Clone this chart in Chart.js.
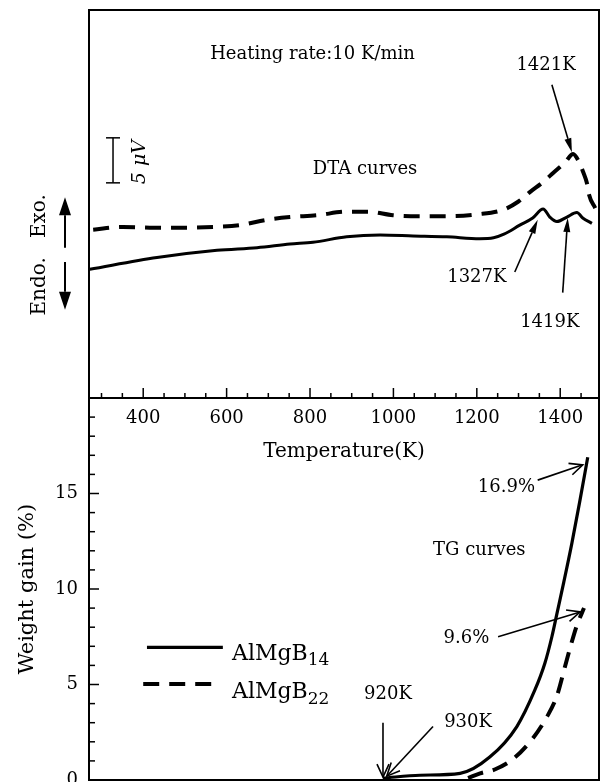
<!DOCTYPE html>
<html><head><meta charset="utf-8">
<script src="https://cdn.jsdelivr.net/npm/chart.js@4.4.1/dist/chart.umd.min.js"></script>
<style>html,body{margin:0;padding:0;background:#fff;}#wrap{width:603px;height:782px;}</style>
</head><body><div id="wrap"><canvas id="c" width="603" height="782"></canvas></div>
<script>
// ---- data ----
const xTickLabels = [400, 600, 800, 1000, 1200, 1400];
const tgTickLabels = [0, 5, 10, 15];
const seriesNames = ['AlMgB14', 'AlMgB22'];

// DTA curves (Temperature K, signal in µV, arbitrary zero)
const dtaSolidT = [272, 433, 577, 673, 752, 807, 888, 968, 1047, 1128, 1207, 1240, 1265, 1303, 1334, 1359, 1375, 1392, 1416, 1440, 1454, 1476];
const dtaSolidV = [14.3, 15.6, 16.4, 16.7, 17.1, 17.3, 17.9, 18.1, 18.0, 17.9, 17.7, 17.8, 18.2, 19.2, 20.0, 21.0, 20.1, 19.6, 20.1, 20.6, 20.0, 19.4];
const dtaDashT = [280, 351, 445, 568, 632, 697, 752, 817, 889, 939, 999, 1064, 1136, 1201, 1263, 1299, 1328, 1359, 1383, 1412, 1431, 1443, 1455, 1465, 1469, 1484];
const dtaDashV = [18.7, 19.0, 18.9, 19.0, 19.2, 19.8, 20.1, 20.3, 20.7, 20.7, 20.3, 20.2, 20.2, 20.4, 20.9, 21.8, 22.9, 24.0, 25.0, 26.2, 27.1, 26.4, 25.1, 23.7, 22.6, 21.1];

// TG curves (Temperature K, weight gain %)
const tgSolidT = [975, 1064, 1160, 1231, 1296, 1339, 1363, 1380, 1392, 1407, 1428, 1447, 1466];
const tgSolidW = [0.1, 0.25, 0.35, 1.2, 2.8, 4.7, 6.1, 7.5, 8.7, 10.2, 12.4, 14.6, 16.9];
const tgDashT = [1179, 1208, 1243, 1287, 1335, 1368, 1392, 1411, 1426, 1440, 1457];
const tgDashW = [0.1, 0.35, 0.55, 1.1, 2.2, 3.3, 4.4, 5.9, 7.1, 8.1, 9.0];

const toXY = (ts, vs) => ts.map((t, i) => ({x: t, y: vs[i]}));

Chart.defaults.font.family = '"DejaVu Serif", serif';
Chart.defaults.color = '#000';

const solidStyle = {borderColor: '#000', borderWidth: 3.2, borderDash: []};
const dashStyle = {borderColor: '#000', borderWidth: 4, borderDash: [16, 10]};

function line(ctx, x1, y1, x2, y2) { ctx.beginPath(); ctx.moveTo(x1, y1); ctx.lineTo(x2, y2); ctx.stroke(); }
function arrow(ctx, x1, y1, x2, y2, head, half, filled) {
  const ang = Math.atan2(y2 - y1, x2 - x1);
  const bx = x2 - head * Math.cos(ang), by = y2 - head * Math.sin(ang);
  const px = -Math.sin(ang) * half, py = Math.cos(ang) * half;
  line(ctx, x1, y1, filled ? bx : x2, filled ? by : y2);
  ctx.beginPath();
  ctx.moveTo(bx + px, by + py); ctx.lineTo(x2, y2); ctx.lineTo(bx - px, by - py);
  if (filled) { ctx.closePath(); ctx.fill(); } else { ctx.stroke(); }
}
function subText(ctx, name, x, y, size) {
  const m = name.match(/^(.*?)(\d+)$/);
  ctx.textAlign = 'left'; ctx.textBaseline = 'middle';
  ctx.font = size + 'px "DejaVu Serif"';
  ctx.fillText(m[1], x, y);
  const w = ctx.measureText(m[1]).width;
  ctx.font = Math.round(size * 0.78) + 'px "DejaVu Serif"';
  ctx.fillText(m[2], x + w, y + size * 0.32);
}

const topTexts = [['Heating rate:10 K/min', 806, 38.2], ['1421K', 1366, 37.0], ['DTA curves', 932, 25.4], ['1327K', 1200, 13.4], ['1419K', 1375, 8.4]];
const bottomTexts = [['16.9%', 1271, 15.3], ['TG curves', 1206, 12.0], ['9.6%', 1175, 7.4], ['920K', 987, 4.5], ['930K', 1179, 3.0]];
const topArrows = [[1380, 34.8, 1428, 27.3], [1291, 14.0, 1346, 19.8], [1406, 11.7, 1418, 20.0]];
const bottomArrows = [[1346, 15.7, 1454, 16.5], [1251, 7.5, 1448, 8.8], [975, 3.0, 975, 0.15], [1095, 2.8, 984, 0.2]];

const noPad = s => { s.paddingTop = 0; s.paddingBottom = 0; s.paddingLeft = 0; s.paddingRight = 0; };

const deco = {
  id: 'deco',
  afterDraw(chart) {
    const {ctx, chartArea: a, scales} = chart;
    const X = v => scales.x.getPixelForValue(v);
    const YD = v => scales.yd.getPixelForValue(v);
    const YT = v => scales.y.getPixelForValue(v);
    ctx.save();
    ctx.strokeStyle = '#000'; ctx.fillStyle = '#000';
    ctx.lineWidth = 2;
    ctx.strokeRect(a.left, a.top, a.right - a.left, a.bottom - a.top);
    const yMid = YT(20);
    line(ctx, a.left, yMid, a.right, yMid);
    // inward tick marks
    ctx.lineWidth = 1.5;
    for (let v = 300; v <= 1450; v += 50) {
      const len = v % 200 === 0 ? 10 : 5;
      line(ctx, X(v), yMid, X(v), yMid - len);
    }
    for (let v = 1; v < 20; v++) {
      const len = v % 5 === 0 ? 10 : 6;
      line(ctx, a.left, YT(v), a.left + len, YT(v));
    }
    // annotations
    ctx.font = '18px "DejaVu Serif"';
    ctx.textAlign = 'center'; ctx.textBaseline = 'middle';
    topTexts.forEach(([t, k, v]) => ctx.fillText(t, X(k), YD(v)));
    bottomTexts.forEach(([t, k, v]) => ctx.fillText(t, X(k), YT(v)));
    ctx.lineWidth = 1.6;
    topArrows.forEach(([k1, v1, k2, v2]) => arrow(ctx, X(k1), YD(v1), X(k2), YD(v2), 14, 3.5, true));
    bottomArrows.forEach(([k1, v1, k2, v2]) => arrow(ctx, X(k1), YT(v1), X(k2), YT(v2), 13, 6, false));
    // 5 µV scale bar
    ctx.lineWidth = 1.5;
    const sx = X(327.6), s1 = YD(28.9), s2 = YD(23.9);
    line(ctx, sx, s1, sx, s2); line(ctx, sx - 7, s1, sx + 7, s1); line(ctx, sx - 7, s2, sx + 7, s2);
    ctx.save();
    ctx.translate(X(392), YD(26.2)); ctx.rotate(-Math.PI / 2);
    ctx.font = 'italic 19px "DejaVu Serif"';
    ctx.fillText('5 μV', 0, 0);
    ctx.restore();
    // Endo / Exo label with arrows
    const L = scales.yd.left;
    ctx.save();
    ctx.translate(L + 40, YD(15.9)); ctx.rotate(-Math.PI / 2);
    ctx.font = '20px "DejaVu Serif"';
    ctx.fillText('Endo.   Exo.', 0, 0);
    ctx.restore();
    ctx.lineWidth = 2;
    arrow(ctx, L + 65, YD(16.7), L + 65, YD(22.3), 18, 6, true);
    arrow(ctx, L + 65, YD(15.1), L + 65, YD(9.8), 18, 6, true);
    // legend
    const legendRows = [[409, 591, 6.94, 6.6, solidStyle], [400, 577, 5.02, 4.6, dashStyle]];
    legendRows.forEach(([k1, k2, v, vt, st], i) => {
      ctx.save();
      ctx.lineWidth = st.borderWidth; ctx.setLineDash(st.borderDash);
      line(ctx, X(k1), YT(v), X(k2), YT(v));
      ctx.restore();
      subText(ctx, seriesNames[i], X(613), YT(vt), 22);
    });
    ctx.restore();
  }
};

const axisFont = {size: 18, family: '"DejaVu Serif", serif'};

new Chart(document.getElementById('c'), {
  type: 'line',
  data: {
    datasets: [
      Object.assign({label: seriesNames[0] + ' DTA', data: toXY(dtaSolidT, dtaSolidV), yAxisID: 'yd'}, solidStyle, {borderWidth: 3}),
      Object.assign({label: seriesNames[1] + ' DTA', data: toXY(dtaDashT, dtaDashV), yAxisID: 'yd'}, dashStyle),
      Object.assign({label: seriesNames[0] + ' TG', data: toXY(tgSolidT, tgSolidW), yAxisID: 'y'}, solidStyle),
      Object.assign({label: seriesNames[1] + ' TG', data: toXY(tgDashT, tgDashW), yAxisID: 'y'}, dashStyle)
    ]
  },
  options: {
    responsive: false,
    animation: false,
    devicePixelRatio: 1,
    layout: {padding: {top: 10, right: 4, bottom: 2, left: 0}},
    elements: {point: {radius: 0}, line: {cubicInterpolationMode: 'monotone', fill: false}},
    plugins: {legend: {display: false}, tooltip: {enabled: false}},
    scales: {
      x: {
        type: 'linear', min: 270, max: 1493, position: {y: 20},
        afterBuildTicks: s => { s.ticks = xTickLabels.map(v => ({value: v})); },
        afterFit: s => { s.height = 66; noPad(s); },
        grid: {display: true, drawOnChartArea: false, drawTicks: false},
        border: {display: true, width: 2, color: '#000'},
        ticks: {padding: 10, color: '#000', font: axisFont, maxRotation: 0, autoSkip: false, callback: v => String(v)},
        title: {display: true, text: 'Temperature(K)', color: '#000', font: {size: 20}, padding: {top: 0, bottom: 0}}
      },
      y: {
        type: 'linear', min: 0, max: 20, position: 'left', stack: 'v', stackWeight: 382,
        afterBuildTicks: s => { s.ticks = tgTickLabels.map(v => ({value: v})); },
        afterFit: s => { s.width = 89; noPad(s); },
        grid: {display: true, drawOnChartArea: false, drawTicks: false},
        border: {display: true, width: 2, color: '#000'},
        ticks: {padding: 11, color: '#000', font: axisFont, callback: v => String(v)},
        title: {display: true, text: 'Weight gain (%)', color: '#000', font: {size: 21}, padding: {top: 15, bottom: 0}}
      },
      yd: {
        type: 'linear', min: 0, max: 43.1, position: 'left', stack: 'v', stackWeight: 388,
        afterFit: s => { s.width = 89; noPad(s); },
        grid: {display: false},
        border: {display: false},
        ticks: {display: false}
      }
    }
  },
  plugins: [deco]
});
</script>
</body></html>
